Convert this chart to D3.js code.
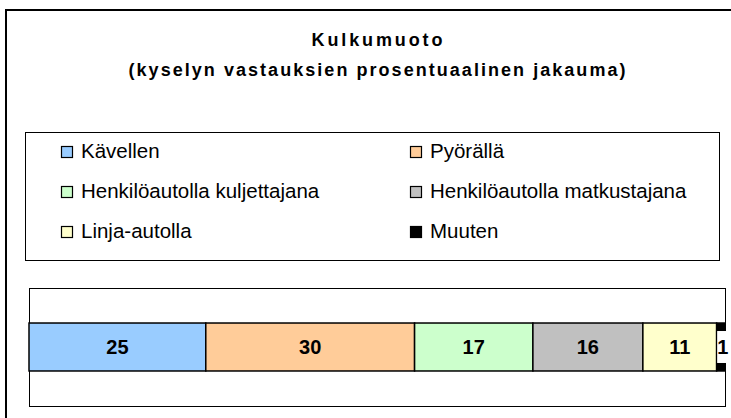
<!DOCTYPE html>
<html>
<head>
<meta charset="utf-8">
<script src="https://cdn.jsdelivr.net/npm/d3@7"></script>
<style>
body { margin: 0; background: #fff; }
text { font-family: "Liberation Sans", Arial, sans-serif; }
</style>
</head>
<body>
<script>
// data
var categories = ["Kävellen", "Pyörällä", "Henkilöautolla kuljettajana",
                  "Henkilöautolla matkustajana", "Linja-autolla", "Muuten"];
var shares = [25.4, 30.0, 17.0, 15.8, 10.6, 1.2];
var colors = ["#99ccff", "#ffcc99", "#ccffcc", "#c0c0c0", "#ffffcc", "#000000"];
var titleLines = ["Kulkumuoto", "(kyselyn vastauksien prosentuaalinen jakauma)"];

var width = 731, height = 418;
var svg = d3.select("body").append("svg")
	.attr("width", width)
	.attr("height", height);

// chart frame (runs off the right and bottom edge)
svg.append("rect")
	.attr("x", 6).attr("y", 10)
	.attr("width", 800).attr("height", 500)
	.attr("fill", "#fff")
	.attr("stroke", "#000")
	.attr("stroke-width", 2);

// title
var titleSpec = [{y: 46, len: 131}, {y: 76, len: 497}];
svg.selectAll("text.title")
	.data(titleLines)
	.enter()
	.append("text")
	.attr("class", "title")
	.attr("x", 377)
	.attr("y", function(d, i) { return titleSpec[i].y; })
	.attr("text-anchor", "middle")
	.attr("font-size", 18)
	.attr("font-weight", "bold")
	.attr("textLength", function(d, i) { return titleSpec[i].len; })
	.attr("lengthAdjust", "spacing")
	.text(function(d) { return d; });

// legend
svg.append("rect")
	.attr("x", 25.5).attr("y", 132.5)
	.attr("width", 694).attr("height", 128)
	.attr("fill", "#fff")
	.attr("stroke", "#000")
	.attr("stroke-width", 1);

var legend = svg.selectAll("g.legend")
	.data(categories)
	.enter()
	.append("g")
	.attr("class", "legend")
	.attr("transform", function(d, i) {
		var col = i % 2, row = Math.floor(i / 2);
		return "translate(" + (col == 0 ? 61 : 410) + "," + (146 + row * 40) + ")";
	});
legend.append("rect")
	.attr("x", 0.5).attr("y", 0.5)
	.attr("width", 11).attr("height", 11)
	.attr("fill", function(d, i) { return colors[i]; })
	.attr("stroke", "#000")
	.attr("stroke-width", 1.2);
legend.append("text")
	.attr("x", 20)
	.attr("y", 12)
	.attr("font-size", 20.5)
	.text(function(d) { return d; });

// plot area
var plot = {left: 29, right: 725, top: 288, bottom: 406};
svg.append("rect")
	.attr("x", plot.left + 0.5).attr("y", plot.top + 0.5)
	.attr("width", plot.right - plot.left).attr("height", plot.bottom - plot.top)
	.attr("fill", "#fff")
	.attr("stroke", "#000")
	.attr("stroke-width", 1);

var x = d3.scaleLinear()
	.domain([0, d3.sum(shares)])
	.range([plot.left, plot.right]);
var y = d3.scaleBand()
	.domain(["all"])
	.range([plot.top, plot.bottom])
	.paddingInner(0)
	.paddingOuter(0.73);

var starts = [];
shares.reduce(function(acc, v) { starts.push(acc); return acc + v; }, 0);

svg.selectAll("rect.seg")
	.data(shares)
	.enter()
	.append("rect")
	.attr("class", "seg")
	.attr("x", function(d, i) { return x(starts[i]); })
	.attr("y", y("all"))
	.attr("width", function(d, i) { return x(starts[i] + d) - x(starts[i]); })
	.attr("height", y.bandwidth())
	.attr("fill", function(d, i) { return colors[i]; })
	.attr("stroke", "#000")
	.attr("stroke-width", 1.5);

// white box behind the label of the thin black segment
var last = shares.length - 1;
svg.append("rect")
	.attr("x", x(starts[last]) + 0.5)
	.attr("y", y("all") + 8)
	.attr("width", x(starts[last] + shares[last]) - x(starts[last]) + 3)
	.attr("height", y.bandwidth() - 16)
	.attr("fill", "#fff");

svg.selectAll("text.seglabel")
	.data(shares)
	.enter()
	.append("text")
	.attr("class", "seglabel")
	.attr("x", function(d, i) {
		var cx = (x(starts[i]) + x(starts[i] + d)) / 2;
		return i == last ? cx + 2 : cx;
	})
	.attr("y", y("all") + y.bandwidth() / 2 + 7)
	.attr("text-anchor", "middle")
	.attr("font-size", 20)
	.attr("font-weight", "bold")
	.text(function(d) { return Math.round(d); });
</script>
</body>
</html>
